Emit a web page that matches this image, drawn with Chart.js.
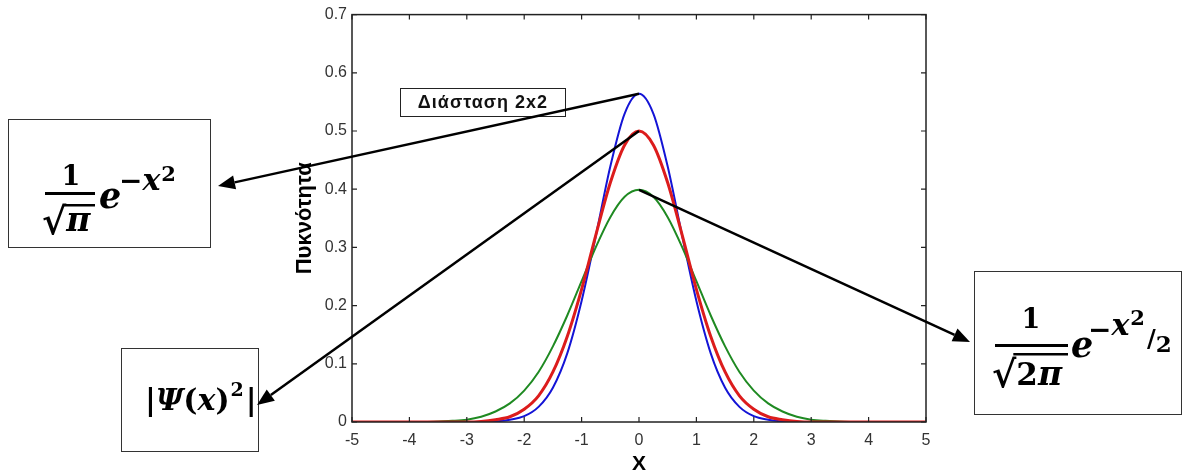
<!DOCTYPE html>
<html>
<head>
<meta charset="utf-8">
<script src="https://cdn.jsdelivr.net/npm/chart.js@4.4.1/dist/chart.umd.min.js"></script>
<style>
  html, body { margin: 0; padding: 0; background: #fff; }
</style>
</head>
<body>
<canvas id="grafica" width="1187" height="475"></canvas>
<script>
// Valors de x (pas 0.25) i les tres densitats
const xValues = [-5, -4.75, -4.5, -4.25, -4, -3.75, -3.5, -3.25, -3, -2.75, -2.5, -2.25, -2, -1.75, -1.5, -1.25, -1, -0.75, -0.5, -0.25,
  0, 0.25, 0.5, 0.75, 1, 1.25, 1.5, 1.75, 2, 2.25, 2.5, 2.75, 3, 3.25, 3.5, 3.75, 4, 4.25, 4.5, 4.75, 5];

// 1/sqrt(pi) e^(-x^2)
const blueValues = [0, 0, 0, 0, 0, 0, 0, 0, 0, 0, 0.001, 0.004, 0.010, 0.026, 0.059, 0.118, 0.208, 0.321, 0.439, 0.530,
  0.564, 0.530, 0.439, 0.321, 0.208, 0.118, 0.059, 0.026, 0.010, 0.004, 0.001, 0, 0, 0, 0, 0, 0, 0, 0, 0, 0];

// |Psi(x)^2|
const redValues = [0, 0, 0, 0, 0, 0, 0, 0, 0, 0.001, 0.004, 0.009, 0.022, 0.045, 0.086, 0.147, 0.228, 0.322, 0.411, 0.476,
  0.500, 0.476, 0.411, 0.322, 0.228, 0.147, 0.086, 0.045, 0.022, 0.009, 0.004, 0.001, 0, 0, 0, 0, 0, 0, 0, 0, 0];

// 1/sqrt(2pi) e^(-x^2/2)
const greenValues = [0, 0, 0, 0, 0, 0, 0.001, 0.002, 0.004, 0.009, 0.018, 0.032, 0.054, 0.086, 0.130, 0.183, 0.242, 0.301, 0.352, 0.387,
  0.399, 0.387, 0.352, 0.301, 0.242, 0.183, 0.130, 0.086, 0.054, 0.032, 0.018, 0.009, 0.004, 0.002, 0.001, 0, 0, 0, 0, 0, 0];

const xTicks = [-5, -4, -3, -2, -1, 0, 1, 2, 3, 4, 5];
const yTicks = [0, 0.1, 0.2, 0.3, 0.4, 0.5, 0.6, 0.7];

const puntos = (ys) => xValues.map((x, i) => ({ x: x, y: ys[i] }));

const SERIF = '"DejaVu Serif", serif';
const B = (s) => 'bold ' + s + 'px ' + SERIF;
const BI = (s) => 'italic bold ' + s + 'px ' + SERIF;

function texto(c, t, x, y, font, align) {
    c.font = font;
    c.textAlign = align || 'left';
    c.textBaseline = 'alphabetic';
    c.fillText(t, x, y);
    return align === 'center' ? x : x + c.measureText(t).width;
}

function flecha(c, x0, y0, x1, y1) {
    const ang = Math.atan2(y1 - y0, x1 - x0);
    const L = 17, W = 7;
    const bx = x1 - L * Math.cos(ang), by = y1 - L * Math.sin(ang);
    c.beginPath();
    c.moveTo(x0, y0);
    c.lineTo(bx, by);
    c.lineWidth = 2.5;
    c.stroke();
    c.beginPath();
    c.moveTo(x1, y1);
    c.lineTo(bx - W * Math.sin(ang), by + W * Math.cos(ang));
    c.lineTo(bx + W * Math.sin(ang), by - W * Math.cos(ang));
    c.closePath();
    c.fill();
}

// Marc estil MATLAB, etiquetes i fletxes cap a les fórmules
const anotaciones = {
    id: 'anotaciones',
    afterDraw(chart) {
        const c = chart.ctx;
        const a = chart.chartArea;
        const xs = chart.scales.x, ys = chart.scales.y;
        c.save();

        // marc i marques cap a dins als quatre costats
        c.strokeStyle = '#222';
        c.lineWidth = 1.5;
        c.strokeRect(a.left, a.top, a.right - a.left, a.bottom - a.top);
        c.lineWidth = 1.2;
        c.beginPath();
        xTicks.forEach(v => {
            const px = xs.getPixelForValue(v);
            c.moveTo(px, a.bottom); c.lineTo(px, a.bottom - 5);
            c.moveTo(px, a.top); c.lineTo(px, a.top + 5);
        });
        yTicks.forEach(v => {
            const py = ys.getPixelForValue(v);
            c.moveTo(a.left, py); c.lineTo(a.left + 5, py);
            c.moveTo(a.right, py); c.lineTo(a.right - 5, py);
        });
        c.stroke();

        // etiqueta Διάσταση 2x2
        c.fillStyle = '#fff';
        c.fillRect(401, 88, 165, 29);
        c.strokeStyle = '#222';
        c.lineWidth = 1;
        c.strokeRect(400.5, 88.5, 165, 28);
        c.fillStyle = '#111';
        c.font = 'bold 18px "Liberation Sans", Arial, sans-serif';
        c.letterSpacing = '1px';
        c.textAlign = 'center';
        c.textBaseline = 'middle';
        c.fillText('Διάσταση 2x2', 483, 103);
        c.letterSpacing = '0px';

        // caixes de les fórmules
        c.strokeStyle = '#333';
        c.lineWidth = 1;
        c.strokeRect(8.5, 119.5, 202, 128);
        c.strokeRect(974.5, 271.5, 207, 143);
        c.strokeRect(121.5, 348.5, 137, 103);

        c.fillStyle = '#000';
        // 1/sqrt(pi) e^{-x^2}
        texto(c, '1', 71, 185, B(27), 'center');
        c.fillRect(45, 192, 50, 3);
        let px = texto(c, '√', 42, 234, B(37));
        c.fillRect(px - 3, 204, 95 - px + 3, 2.5);
        texto(c, 'π', px, 231, BI(33));
        texto(c, 'e', 99, 208, BI(35));
        let ex = texto(c, '−', 119, 190, B(28));
        ex = texto(c, 'x', ex, 190, BI(30));
        texto(c, '2', ex + 1, 181, B(21));

        // 1/sqrt(2pi) e^{-x^2/2}
        texto(c, '1', 1031, 328, B(27), 'center');
        c.fillRect(995, 344, 73, 3);
        px = texto(c, '√', 992, 387, B(37));
        c.fillRect(px - 3, 353, 1068 - px + 3, 2.5);
        px = texto(c, '2', px, 385, B(31));
        texto(c, 'π', px, 385, BI(33));
        texto(c, 'e', 1071, 357, BI(35));
        ex = texto(c, '−', 1088, 339, B(28));
        ex = texto(c, 'x', ex, 335, BI(30));
        ex = texto(c, '2', ex + 1, 325, B(21));
        ex = texto(c, '/', ex + 2, 347, B(24));
        texto(c, '2', ex, 352, B(23));

        // |Psi(x)^2|
        px = texto(c, '|', 145, 410, B(30));
        px = texto(c, 'Ψ', px, 410, BI(30));
        px = texto(c, '(', px, 410, B(30));
        px = texto(c, 'x', px, 410, BI(30));
        px = texto(c, ')', px, 410, B(30));
        px = texto(c, '2', px + 1, 396, B(19));
        texto(c, '|', px + 2, 410, B(30));

        // fletxes des dels màxims de cada corba
        const i0 = xValues.indexOf(0);
        const x0 = xs.getPixelForValue(0);
        c.strokeStyle = '#000';
        c.fillStyle = '#000';
        flecha(c, x0, ys.getPixelForValue(blueValues[i0]), 218, 186);
        flecha(c, x0, ys.getPixelForValue(redValues[i0]), 257, 405);
        flecha(c, x0, ys.getPixelForValue(greenValues[i0]), 970, 342);

        c.restore();
    }
};

const tickFont = { family: '"Liberation Sans", Arial, sans-serif', size: 16 };

new Chart(document.getElementById('grafica'), {
    type: 'line',
    data: {
        datasets: [
            { label: '|Ψ(x)²|', data: puntos(redValues), borderColor: '#dc1c1c', borderWidth: 3, order: 1 },
            { label: '1/√(2π) e^(-x²/2)', data: puntos(greenValues), borderColor: '#1f8a22', borderWidth: 2, order: 2 },
            { label: '1/√π e^(-x²)', data: puntos(blueValues), borderColor: '#1414d6', borderWidth: 2, order: 3 }
        ]
    },
    options: {
        responsive: false,
        animation: false,
        layout: { padding: { left: 294, top: 14, right: 261, bottom: 0 } },
        elements: {
            point: { radius: 0 },
            line: { cubicInterpolationMode: 'monotone', fill: false }
        },
        plugins: { legend: { display: false }, tooltip: { enabled: false } },
        scales: {
            x: {
                type: 'linear',
                min: -5,
                max: 5,
                afterBuildTicks: s => { s.ticks = xTicks.map(v => ({ value: v })); },
                afterFit: s => { s.height = 475 - 422; },
                grid: { display: false, drawTicks: false },
                border: { display: false },
                ticks: { padding: 9, color: '#333', font: tickFont, maxRotation: 0, autoSkip: false },
                title: {
                    display: true, text: 'X', color: '#000', padding: 0,
                    font: { family: 'Arial, "Liberation Sans", sans-serif', size: 21, weight: 'bold', lineHeight: 1 }
                }
            },
            y: {
                min: 0,
                max: 0.7,
                afterBuildTicks: s => { s.ticks = yTicks.map(v => ({ value: v })); },
                afterFit: s => { s.width = 352 - 294; },
                grid: { display: false, drawTicks: false },
                border: { display: false },
                ticks: { padding: 5, color: '#333', font: tickFont, callback: v => String(v) },
                title: {
                    display: true, text: 'Πυκνότητα', color: '#000', padding: 0,
                    font: { family: 'Arial, "Liberation Sans", sans-serif', size: 22, weight: 'bold', lineHeight: 1 }
                }
            }
        }
    },
    plugins: [anotaciones]
});
</script>
</body>
</html>
